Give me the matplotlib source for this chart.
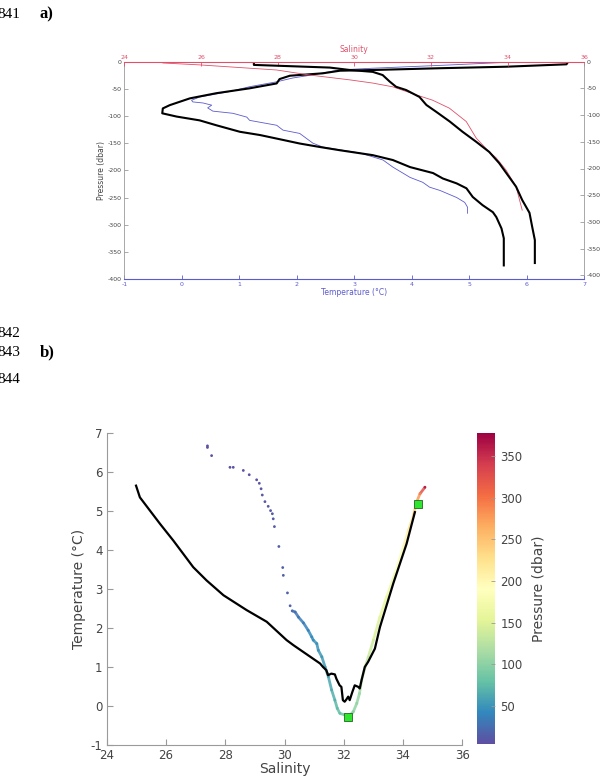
import numpy as np
import matplotlib
matplotlib.use('Agg')
import matplotlib.pyplot as plt
from matplotlib.collections import LineCollection
from matplotlib.colors import Normalize

plt.rcParams['axes.unicode_minus'] = False

# ---- panel a: profiles ----
# black temperature profile (left thick black)
temp1_T = [6.72, 6.69, 5.65, 4.49, 3.32, 2.75, 2.45, 1.88, 1.70, 1.65, 1.18, 0.60, 0.14, -0.21, -0.33,
           -0.34, -0.09, 0.31, 0.60, 1.01, 1.36, 1.76, 2.05, 2.40, 2.75, 3.32, 3.67, 3.97, 4.37, 4.54,
           4.78, 4.95, 5.06, 5.23, 5.41, 5.47, 5.56, 5.60, 5.60]
temp1_P = [0, 4.8, 9.2, 12, 15.3, 16.6, 21.4, 25.8, 32, 40, 49, 58, 67.5, 80, 86,
           95, 101, 108, 117, 129, 135, 144, 150.6, 157, 163, 172, 181, 194, 205, 215,
           224, 233, 249, 264, 277, 286, 307, 325, 375]
# black salinity profile (right thick black)
sal1_S = [27.38, 27.38, 29.36, 29.88, 30.48, 30.74, 30.92, 31.09, 31.35, 31.70, 31.88, 32.14, 32.49,
          32.82, 33.18, 33.52, 33.78, 33.96, 34.22, 34.38, 34.57, 34.64, 34.71, 34.71]
sal1_P = [0, 6, 11, 15.5, 19, 25, 37, 47, 53, 66, 81, 94, 112,
          131, 150, 169, 190, 208, 234, 259, 283, 309, 334, 377]
# thin blue temperature profile
temp2_T = [5.67, 4.66, 3.32, 2.75, 2.23, 1.93, 1.65, 1.18, 0.83, 0.31, 0.17, 0.19, 0.37, 0.52, 0.45,
           0.54, 0.89, 1.13, 1.18, 1.65, 1.76, 2.05, 2.28, 2.45, 2.80, 3.10, 3.50, 3.67, 3.97, 4.19,
           4.31, 4.49, 4.78, 4.92, 4.97, 4.97]
temp2_P = [1, 6, 12, 15, 25, 30, 37, 46, 55, 65, 71, 74, 76, 80, 85,
           91, 95, 102, 108, 117, 126, 132, 150, 157, 163, 168, 181, 194, 213, 222,
           231, 237, 250, 259, 268, 279]
# thin red salinity profile
sal2_S = [24.93, 25.01, 25.97, 27.97, 28.84, 29.88, 30.48, 31.00, 31.61, 32.04, 32.48, 32.92, 33.18,
          33.52, 33.70, 33.96, 34.22, 34.38]
sal2_P = [0, 2.4, 6, 15.5, 25, 34, 40, 47, 62, 72, 87, 112, 143,
          169, 180, 203, 234, 278]

# ---- panel b: T-S diagram ----
ts_S = [27.40, 27.40, 27.54, 28.16, 28.27, 28.61, 28.81, 29.06, 29.15, 29.21, 29.25, 29.34, 29.45, 29.53,
        29.59, 29.62, 29.66, 29.81, 29.94, 29.96, 30.10, 30.19, 30.26, 30.36, 30.47, 30.64, 30.80, 30.92,
        30.97, 31.09, 31.14, 31.26, 31.37, 31.48, 31.59, 31.70, 31.78, 31.87, 32.04, 32.21, 32.32, 32.44,
        32.53, 32.60, 32.72, 32.83, 33.00, 33.22, 33.45, 33.73, 34.01, 34.18, 34.35, 34.46, 34.57, 34.74]
ts_T = [6.67, 6.63, 6.42, 6.12, 6.12, 6.04, 5.93, 5.80, 5.71, 5.57, 5.41, 5.24, 5.12, 5.01,
        4.93, 4.80, 4.60, 4.09, 3.55, 3.35, 2.90, 2.57, 2.44, 2.41, 2.28, 2.13, 1.94, 1.77,
        1.69, 1.60, 1.43, 1.26, 1.00, 0.75, 0.41, 0.15, -0.06, -0.19, -0.23, -0.23, -0.15, 0.07,
        0.32, 0.66, 1.00, 1.26, 1.69, 2.28, 2.80, 3.39, 4.07, 4.50, 4.88, 5.23, 5.44, 5.61]
ts_P = [2, 3, 5, 6, 7, 7, 8, 8, 9, 9.5, 10, 10.5, 11, 11,
        11.5, 11.5, 12, 13.5, 14.5, 15, 16, 19, 24, 28, 32, 36, 40, 44,
        46, 48, 50, 53, 56, 60, 64, 68, 75, 80, 88, 96, 100, 104,
        108, 118, 129, 133, 142, 154, 164, 173, 197, 212, 228, 264, 290, 360]
line_S = [24.99, 25.12, 25.46, 25.80, 26.25, 26.92, 27.37, 27.94, 28.72, 29.40, 30.07, 30.30, 31.20,
          31.30, 31.41, 31.47, 31.58, 31.70, 31.75, 31.86, 31.92, 31.97, 32.03, 32.09, 32.15, 32.20,
          32.29, 32.37, 32.49, 32.54, 32.60, 32.71, 32.82, 33.05, 33.22, 33.67, 34.12, 34.40]
line_T = [5.65, 5.35, 5.01, 4.67, 4.24, 3.56, 3.22, 2.84, 2.46, 2.16, 1.69, 1.56, 1.09,
          1.00, 0.92, 0.79, 0.83, 0.81, 0.70, 0.53, 0.49, 0.15, 0.11, 0.17, 0.24, 0.15,
          0.36, 0.53, 0.49, 0.45, 0.66, 1.00, 1.13, 1.47, 2.02, 3.14, 4.16, 4.97]
sq_S = [32.13, 34.52]
sq_T = [-0.29, 5.18]

blue = '#5b5bcf'
red = '#e0506a'
grey = '#9a9a9a'
txt = '#444444'

fig = plt.figure(figsize=(6.06, 7.8), dpi=100)

# margin text (line numbers, panel letters)
serif = 'Liberation Serif'
fig.text(-0.005, 0.982, '841', fontsize=11, family=serif, va='center')
fig.text(0.066, 0.982, 'a)', fontsize=12, family=serif, weight='bold', va='center')
fig.text(-0.005, 0.573, '842', fontsize=11, family=serif, va='center')
fig.text(-0.005, 0.548, '843', fontsize=11, family=serif, va='center')
fig.text(0.066, 0.548, 'b)', fontsize=12, family=serif, weight='bold', va='center')
fig.text(-0.005, 0.513, '844', fontsize=11, family=serif, va='center')

# ---------------- panel a ----------------
W = 606.0
H = 780.0
axT = fig.add_axes([124.3 / W, 1 - 279 / H, 460 / W, 217.3 / H])
axS = fig.add_axes([124.3 / W, 1 - 275.3 / H, 460 / W, 213.6 / H])
axS.patch.set_alpha(0)

axT.plot(temp2_T, -np.array(temp2_P), color=blue, lw=0.6)
axT.plot(temp1_T, -np.array(temp1_P), color='black', lw=1.5)
axS.plot(sal2_S, -np.array(sal2_P), color=red, lw=0.6)
axS.plot(sal1_S, -np.array(sal1_P), color='black', lw=1.5)

axT.set_xlim(-1, 7)
axT.set_ylim(-400, 0)
axT.set_xticks(range(-1, 8))
axT.set_yticks(range(-400, 1, 50))
for s in ['top', 'right']:
    axT.spines[s].set_visible(False)
axT.spines['bottom'].set_color(blue)
axT.spines['left'].set_color(grey)
axT.spines['bottom'].set_linewidth(0.8)
axT.spines['left'].set_linewidth(0.6)
axT.tick_params(axis='x', direction='in', length=3, width=0.6, colors=blue, labelsize=4.5, pad=2)
axT.tick_params(axis='y', direction='in', length=3, width=0.6, colors=grey, labelcolor=txt,
                labelsize=4.5, pad=2)
axT.set_xlabel('Temperature (°C)', color=blue, fontsize=5.5, labelpad=1)
axT.set_ylabel('Pressure (dbar)', color=txt, fontsize=5.5, labelpad=1)

axS.set_xlim(24, 36)
axS.set_ylim(-400, 0)
axS.set_xticks(range(24, 37, 2))
axS.set_yticks(range(-400, 1, 50))
axS.xaxis.tick_top()
axS.xaxis.set_label_position('top')
axS.yaxis.tick_right()
for s in ['bottom', 'left']:
    axS.spines[s].set_visible(False)
axS.spines['top'].set_color(red)
axS.spines['right'].set_color(grey)
axS.spines['top'].set_linewidth(0.8)
axS.spines['right'].set_linewidth(0.6)
axS.tick_params(axis='x', direction='in', length=3, width=0.6, colors=red, labelsize=4.5, pad=1.5)
axS.tick_params(axis='y', direction='in', length=3, width=0.6, colors=grey, labelcolor=txt,
                labelsize=4.5, pad=2)
axS.set_xlabel('Salinity', color=red, fontsize=5.5, labelpad=2)

# ---------------- panel b ----------------
axB = fig.add_axes([106.7 / W, 1 - 745 / H, 355.6 / W, 312 / H])
cax = fig.add_axes([477.3 / W, 1 - 744 / H, 17.7 / W, 311 / H])

cmap = plt.get_cmap('Spectral_r')
norm = Normalize(vmin=4, vmax=378)

pts = np.column_stack([ts_S, ts_T])
segs = np.stack([pts[22:-1], pts[23:]], axis=1)
segP = (np.array(ts_P[22:-1]) + np.array(ts_P[23:])) / 2
lc = LineCollection(segs, cmap=cmap, norm=norm, linewidths=2.0, alpha=0.85, zorder=2)
lc.set_array(segP)
axB.add_collection(lc)
sc = axB.scatter(ts_S, ts_T, c=ts_P, cmap=cmap, norm=norm, s=4, linewidths=0, zorder=2)

axB.plot(line_S, line_T, color='black', lw=1.6, zorder=3)
axB.scatter(sq_S, sq_T, marker='s', s=38, color='#2ee62e', edgecolors='#226622',
            linewidths=0.6, zorder=4)

axB.set_xlim(24, 36)
axB.set_ylim(-1, 7)
axB.set_xticks(range(24, 37, 2))
axB.set_yticks(range(-1, 8))
for s in ['top', 'right']:
    axB.spines[s].set_visible(False)
for s in ['left', 'bottom']:
    axB.spines[s].set_color(grey)
    axB.spines[s].set_linewidth(0.8)
axB.tick_params(direction='in', length=4, width=0.8, colors=grey, labelcolor=txt,
                labelsize=8.5, pad=3)
axB.set_xlabel('Salinity', color=txt, fontsize=10, labelpad=0)
axB.set_ylabel('Temperature (°C)', color=txt, fontsize=10, labelpad=3)

cb = fig.colorbar(sc, cax=cax)
cb.outline.set_visible(False)
cb.set_ticks(range(50, 351, 50))
cb.ax.tick_params(direction='in', length=3, width=0.6, colors=grey, labelcolor=txt,
                  labelsize=8.5, pad=4)
cb.set_label('Pressure (dbar)', color=txt, fontsize=10, labelpad=6)

fig.savefig('out.png', dpi=100)
